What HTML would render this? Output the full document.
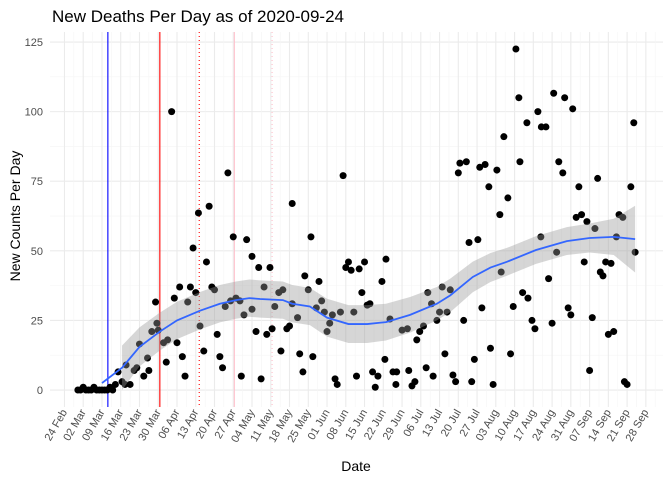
<!DOCTYPE html>
<html><head><meta charset="utf-8"><style>
body{margin:0;background:#fff}
svg text{font-family:"Liberation Sans",Arial,sans-serif}
</style></head><body>
<svg id="chart" width="672" height="480" xmlns="http://www.w3.org/2000/svg">
<rect width="672" height="480" fill="#fff"/>
<text x="52" y="22" font-size="17" fill="#000">New Deaths Per Day as of 2020-09-24</text>
<text transform="translate(20,216) rotate(-90)" text-anchor="middle" font-size="14" fill="#000">New Counts Per Day</text>
<text x="356" y="471" text-anchor="middle" font-size="14" fill="#000">Date</text>
<g id="grid"></g><g id="vlines"></g><g id="pts"></g><g id="smooth"></g><g id="axes"></g>
</svg>
<script>
// days since 2020-02-24
const days = [5,6,7,8,9,10,11,12,13,14,15,16,17,18,
19,20,21.5,22.6,23,24.5,26,27,28,29.6,31,31.5,32.6,34,34.5,35,37,38,38.5,40,41,42,43,44,45,46,47,48,49,50,50.6,52,53,54,55,56,57,58,59,60,61,62,63,64,65.5,66,67,68,70,70,71.5,
72.5,73.4,74.5,75.5,76.7,77.5,78.5,80,80.8,81.5,83,84,85,85,87,87.8,89,89.7,91,92,92.7,94,95,96,97,98,99,100,101,101.8,103,104,105,106,107,108,109,110,111,112,113,114,115,116,117,118.5,119.6,120,121.5,122.6,123.7,124,126,128,128.5,129.7,130.8,131.5,132.6,134,135,135.6,137,137.6,139,140,141,142,142.8,
144,145,146,147,147.6,149,150,151,152,153,154.3,155,155.8,157,158.4,159,160,161.4,162.5,163,164,165.5,166.5,167.5,168.5,169.6,170,171,172.6,173,174.5,175.6,176.7,177.8,178,179.7,180.7,182,182.6,183.7,184.5,186,186.7,188,189,189.7,191,192,193,194,195,196,197,198,199,200,201,202,203,204,205,206,207,208.4,209,210,211.4,212.5,213];
const deaths = [0,0,1,0,0,0,1,0,0,0,0,0,1,0,
2,6.5,3,2,9,2,7,8,16.5,5,11.5,7,21,31.6,24,21.5,17,10,18,100,33,17,37,12,5,31.6,37,51,35,63.6,23,14,46,66,37,36,20,12,8,30,78,32,55,33,32,5,27,54,29,48,21,
44,4,37,20,44,22,30,35,14,36,22,23,67,31,26,13,6.5,41,36,55,12,29.5,39,32,28,21,24,27,4,2,28,77,44,46,43,28,5,43.5,35,46,30.5,31,6.5,1,5,39,11,47,25.5,6.5,2,6.5,21.5,22,7,1.5,3,18,21,23,8,35,31,5,25,28,37,13,28,
36,5.4,3,78,81.5,25,82,53,3,11,54,80,29.5,81,73,15,2,79,63,42.4,91,69,13,30,122.5,105,82,35,96,33,25,22,100,55,94.5,94.5,40,24,106.6,49.5,82,78,105,29.5,27,101,62,73,63,46,60.5,7,26,58,76,42.4,41,46,20,45.5,21,55,63,62,3,2,73,96,49.5];
const smoothDays = [14,21.5,28,35.6,42,50.6,58,64,69,73,81.5,85,91.6,98,106,113,120,129,139,144,152.4,159,165,176,187.5,196,205,213];
const smoothVals = [2.5,8,15.5,21,25,28.5,31,32.3,33,32.7,32.3,31,30,26,23.7,23.7,24.4,27,31,34,40.6,44,46,50.3,53.5,54.6,55,54.2];
const smoothSE = [8,8,7,6.8,6.7,6.7,6.7,6.7,6.7,6.7,6.7,6.7,6.7,6.8,6.8,6.8,6.6,6.4,6,6,5.5,5.2,5,5,5,5.2,6.5,12];
const bandStartDay = 21.5;
const yTicks = [0,25,50,75,100,125];
const xTickLabels = ["24 Feb","02 Mar","09 Mar","16 Mar","23 Mar","30 Mar","06 Apr","13 Apr","20 Apr","27 Apr","04 May","11 May","18 May","25 May","01 Jun","08 Jun","15 Jun","22 Jun","29 Jun","06 Jul","13 Jul","20 Jul","27 Jul","03 Aug","10 Aug","17 Aug","24 Aug","31 Aug","07 Sep","14 Sep","21 Sep","28 Sep"];
const vlineDays = [16.2,35.6,50.3,63.4,77.5];
const vlineColors = ["#0000ff","#ff0000","#ff0000","#ffc0cb","#ffc0cb"];
const vlineDash = ["","","1,3","","1,3"];

const X0=50,X1=663,D0=-5.4,D1=223.4,Y0=407,Y1=32,V0=-6.1,V1=128.6;
const xs=d=>X0+(d-D0)/(D1-D0)*(X1-X0);
const ys=v=>Y0-(v-V0)/(V1-V0)*(Y0-Y1);
const NS="http://www.w3.org/2000/svg";
function mk(tag,attrs,parent){const e=document.createElementNS(NS,tag);for(const k in attrs)e.setAttribute(k,attrs[k]);parent.appendChild(e);return e;}
const grid=document.getElementById('grid');
for(let v=0;v<=125;v+=12.5){const l=mk('line',{x1:X0,x2:X1,y1:ys(v),y2:ys(v),stroke:v%25===0?'#ebebeb':'#f5f5f5','stroke-width':v%25===0?1.1:0.6},grid);

}
for(let i=0;i<xTickLabels.length;i++){for(const h of [0,3.5]){const d=i*7+h;if(xs(d)>X1)continue;const l=mk('line',{x1:xs(d),x2:xs(d),y1:Y1,y2:Y0,stroke:h===0?'#ebebeb':'#f5f5f5','stroke-width':h===0?1.1:0.6},grid);

}}
const vl=document.getElementById('vlines');
vlineDays.forEach((d,i)=>{const l=mk('line',{x1:xs(d),x2:xs(d),y1:Y1,y2:Y0,stroke:vlineColors[i],'stroke-width':1.1},vl);if(vlineDash[i])l.setAttribute('stroke-dasharray',vlineDash[i]);

});
const pts=document.getElementById('pts');
days.forEach((d,i)=>{const c=mk('circle',{cx:xs(d),cy:ys(deaths[i]),r:3.5,fill:'#000'},pts);

});
const sm=document.getElementById('smooth');
const bi=smoothDays.map((d,i)=>i).filter(i=>smoothDays[i]>=bandStartDay);
let up=bi.map(i=>xs(smoothDays[i])+','+ys(smoothVals[i]+smoothSE[i]));
let lo=bi.map(i=>xs(smoothDays[i])+','+ys(smoothVals[i]-smoothSE[i])).reverse();
const band=mk('polygon',{points:up.concat(lo).join(' '),fill:'#999999','fill-opacity':0.4},sm);


const line=mk('polyline',{points:smoothDays.map((d,i)=>xs(d)+','+ys(smoothVals[i])).join(' '),fill:'none',stroke:'#3366ff','stroke-width':1.8},sm);


const ax=document.getElementById('axes');
yTicks.forEach(v=>{const t=mk('text',{x:43,y:ys(v)+4,'text-anchor':'end','font-size':11,fill:'#4d4d4d'},ax);t.textContent=v;

});
xTickLabels.forEach((s,i)=>{const x=xs(i*7);const t=mk('text',{transform:`translate(${x+3},${Y0+5}) rotate(-60)`,'text-anchor':'end','font-size':11,fill:'#4d4d4d'},ax);t.textContent=s;

});
</script>
</body></html>
